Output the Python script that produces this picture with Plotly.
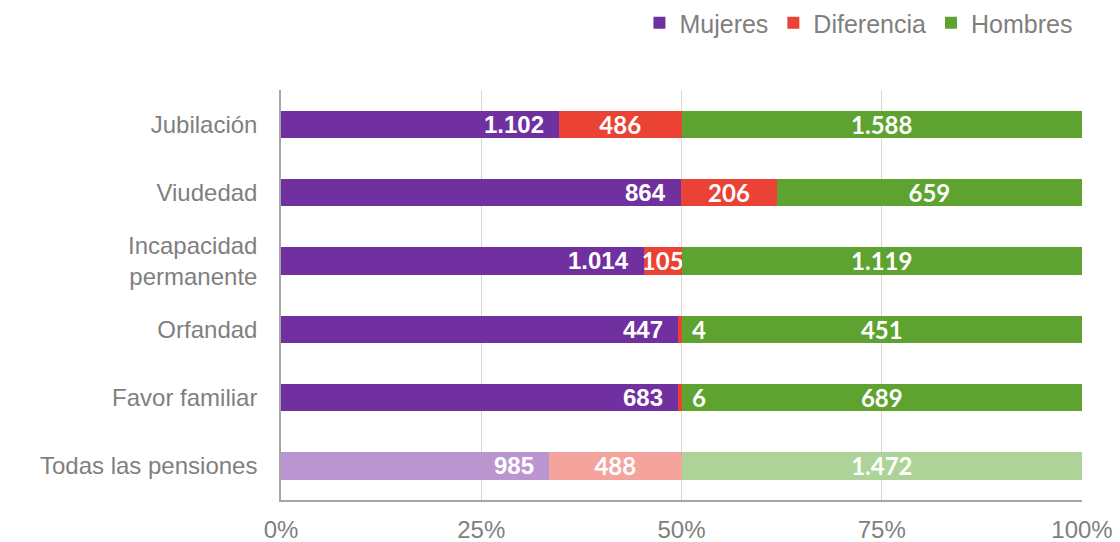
import plotly.graph_objects as go

categories = ["Jubilación", "Viudedad", "Incapacidad<br>permanente", "Orfandad", "Favor familiar", "Todas las pensiones"]
mujeres = [1102, 864, 1014, 447, 683, 985]
diferencia = [486, 206, 105, 4, 6, 488]
hombres = [1588, 659, 1119, 451, 689, 1472]
x_ticks = [0, 25, 50, 75, 100]
x_ticklabels = ["0%", "25%", "50%", "75%", "100%"]

purple, purple_l = "#7030A0", "#BB95D0"
red, red_l = "#EA4335", "#F4A49C"
green, green_l = "#5EA22F", "#AED398"
grey_txt = "#7F7F7F"
axis_font = dict(family="Liberation Sans, Arial, sans-serif", size=24, color=grey_txt)
legend_font = dict(family="Liberation Sans, Arial, sans-serif", size=25, color=grey_txt)
calibri = dict(family="Lato, Open Sans, sans-serif", size=24, color="white", weight="bold")
arialb = dict(family="Liberation Sans, Arial, sans-serif", size=24, color="white", weight="bold")

n = len(categories)
fig = go.Figure()
fig.add_trace(go.Bar(
    name="Mujeres", y=categories, x=mujeres, orientation="h",
    marker=dict(color=[purple] * (n - 1) + [purple_l], line=dict(width=0)),
    textposition="none", hoverinfo="skip",
))
dif_pos = ["inside" if v >= 50 else "none" for v in diferencia]
fig.add_trace(go.Bar(
    name="Diferencia", y=categories, x=diferencia, orientation="h",
    marker=dict(color=[red] * (n - 1) + [red_l], line=dict(width=0)),
    customdata=diferencia, texttemplate="%{customdata:,.0f}",
    textposition=dif_pos, insidetextanchor="middle", constraintext="none",
    textfont=calibri, hoverinfo="skip",
))
fig.add_trace(go.Bar(
    name="Hombres", y=categories, x=hombres, orientation="h",
    marker=dict(color=[green] * (n - 1) + [green_l], line=dict(width=0)),
    customdata=hombres, texttemplate="%{customdata:,.0f}",
    textposition="inside", insidetextanchor="middle", constraintext="none",
    textfont=calibri, hoverinfo="skip",
))

for cat, m, d, h in zip(categories, mujeres, diferencia, hombres):
    tot = m + d + h
    # women's value at the inner end of the purple bar
    fig.add_annotation(x=m / tot * 100, y=cat, text=f"{m:,}".replace(",", "."), showarrow=False,
                       xanchor="right", xshift=-13, font=arialb)
    # small differences labelled just after the bar
    if d < 50:
        fig.add_annotation(x=(m + d) / tot * 100, y=cat, text=f"{d}", showarrow=False,
                           xanchor="left", xshift=8, font=calibri)

fig.update_layout(
    barmode="stack", barnorm="percent", bargap=0.6,
    separators=",.",
    width=1120, height=542,
    margin=dict(l=281, r=38, t=90, b=42, autoexpand=False),
    plot_bgcolor="white", paper_bgcolor="white",
    legend=dict(orientation="h", x=0.962, xanchor="right", y=1.0, yanchor="top",
                yref="container", xref="container", font=legend_font, traceorder="normal",
                itemwidth=30, tracegroupgap=0),
    showlegend=True,
)
fig.update_xaxes(range=[0, 100], tickvals=x_ticks, ticktext=x_ticklabels,
                 showgrid=True, gridcolor="#DCD6C2", gridwidth=1,
                 showline=True, linecolor="#A6A6A6", linewidth=1.5,
                 zeroline=False, tickfont=axis_font, ticklabelstandoff=7,
                 fixedrange=True, automargin=False)
fig.update_yaxes(autorange="reversed", showline=True, linecolor="#A6A6A6", linewidth=1.5,
                 showgrid=False, tickfont=axis_font, ticklabelstandoff=17,
                 fixedrange=True, automargin=False)

fig.write_html("out.html", config={"displayModeBar": False},
               post_script="document.body.style.margin='0';")
